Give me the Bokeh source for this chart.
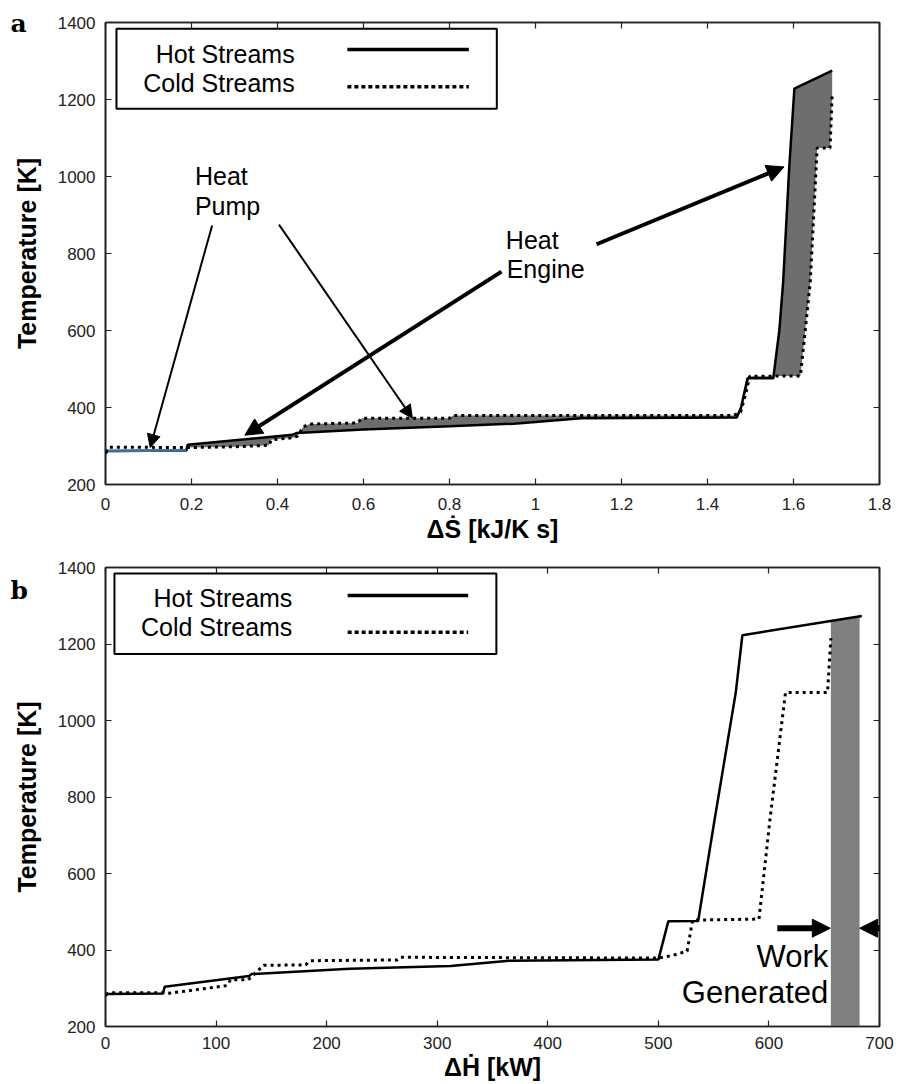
import numpy as np
from bokeh.plotting import figure
from bokeh.layouts import column
from bokeh.models import (LinearAxis, FixedTicker, Label, Arrow, NormalHead,
                          BoxAnnotation, Range1d, CustomJSTickFormatter)
from bokeh.embed import file_html
from bokeh.resources import INLINE

# ---------------- data: panel a (T vs entropy flow) ----------------
s_hot = [0.000, 0.005, 0.188, 0.191, 0.435, 0.445, 0.600, 0.800, 0.950, 1.106,
         1.468, 1.478, 1.493, 1.553, 1.567, 1.576, 1.590, 1.602, 1.690]
t_hot_s = [280, 287, 288, 303, 329, 334, 343, 351, 358, 372,
           374, 400, 476, 476, 600, 727, 1022, 1228, 1275]

s_cold = [0.000, 0.008, 0.190, 0.300, 0.380, 0.386, 0.440, 0.447, 0.460, 0.475,
          0.586, 0.596, 0.800, 0.808, 1.460, 1.477, 1.490, 1.498, 1.616, 1.627,
          1.639, 1.655, 1.685, 1.690]
t_cold_s = [284, 297, 296, 298, 302, 316, 322, 326, 350, 357,
            360, 372, 372, 379, 379, 388, 440, 481, 482, 597,
            727, 1074, 1074, 1217]

# ---------------- data: panel b (T vs enthalpy flow) ----------------
h_hot = [0, 2, 52, 53.5, 130, 132, 221, 312, 365, 500, 509, 536, 551, 570, 576, 684]
t_hot_h = [280, 285, 286, 304, 332, 337, 351, 358, 372, 375, 475, 476, 743, 1073, 1223, 1273]

h_cold = [0, 3, 53, 58, 110, 113, 129, 143, 181, 185, 264, 267, 365, 500, 512,
          526, 531, 591, 601, 615, 653, 656]
t_cold_h = [284, 288, 288, 287, 307, 322, 322, 360, 361, 372, 374, 381, 380, 379, 385,
            397, 478, 481, 743, 1073, 1073, 1215]

work_h = [656, 682]   # work generated band [kW]

# ---------------- ticks ----------------
s_ticks = [0, 0.2, 0.4, 0.6, 0.8, 1.0, 1.2, 1.4, 1.6, 1.8]
s_tick_labels = ["0", "0.2", "0.4", "0.6", "0.8", "1", "1.2", "1.4", "1.6", "1.8"]
h_ticks = [0, 100, 200, 300, 400, 500, 600, 700]
h_tick_labels = ["0", "100", "200", "300", "400", "500", "600", "700"]
t_ticks = [200, 400, 600, 800, 1000, 1200, 1400]
t_tick_labels = ["200", "400", "600", "800", "1000", "1200", "1400"]

SANS = "Liberation Sans"
AX = "#222222"


def style_axis(ax, ticks, labels=None):
    ax.ticker = FixedTicker(ticks=ticks)
    ax.major_tick_in = 6
    ax.major_tick_out = 0
    ax.minor_tick_line_color = None
    ax.axis_line_color = AX
    ax.axis_line_width = 1.6
    ax.major_tick_line_color = AX
    ax.major_tick_line_width = 1.2
    if labels is not None:
        ax.major_label_overrides = {t: l for t, l in zip(ticks, labels)}
        ax.major_label_text_font = SANS
        ax.major_label_text_font_size = "17px"
        ax.major_label_text_color = AX
    else:
        ax.formatter = CustomJSTickFormatter(code="return ''")
        ax.major_label_text_font_size = "0px"
        ax.major_label_standoff = 0


def make_fig(height, top, bottom, right, xmax, xticks, xlabels, xlabel,
             tick_standoff, label_standoff, panel, title_standoff):
    p = figure(width=899, height=height, x_range=Range1d(0, xmax),
               y_range=Range1d(200, 1400), output_backend="svg",
               toolbar_location=None, min_border_left=105,
               min_border_right=right, min_border_top=top,
               min_border_bottom=bottom, title=panel, title_location="above")
    p.title.text_font = "DejaVu Serif"
    p.title.text_font_size = "25px"
    p.title.text_font_style = "bold"
    p.title.text_color = "black"
    p.title.align = "left"
    p.title.offset = -95
    p.title.standoff = title_standoff
    p.grid.visible = False
    p.outline_line_color = AX
    p.outline_line_width = 1.6
    p.background_fill_color = "white"
    p.border_fill_color = "white"
    xa, ya = p.xaxis[0], p.yaxis[0]
    style_axis(xa, xticks, xlabels)
    style_axis(ya, t_ticks, t_tick_labels)
    xa.major_label_standoff = tick_standoff
    ya.major_label_standoff = 10
    xa.axis_label = xlabel
    ya.axis_label = "Temperature [K]"
    for ax, so in ((xa, label_standoff), (ya, 14)):
        ax.axis_label_text_font = SANS
        ax.axis_label_text_font_style = "bold"
        ax.axis_label_text_font_size = "25px"
        ax.axis_label_text_color = "black"
        ax.axis_label_standoff = so
    top_ax = LinearAxis()
    style_axis(top_ax, xticks)
    right_ax = LinearAxis()
    style_axis(right_ax, t_ticks)
    p.add_layout(top_ax, "above")
    p.add_layout(right_ax, "right")
    return p


def add_text(p, x, y, text, size="25px", align="left"):
    p.add_layout(Label(x=x, y=y, text=text, text_font=SANS, text_font_size=size,
                       text_align=align, text_baseline="alphabetic",
                       text_color="black"))


def add_arrow(p, x0, y0, x1, y1, width, head):
    p.add_layout(Arrow(end=NormalHead(size=head, fill_color="black",
                                      line_color="black", line_width=1),
                       x_start=x0, y_start=y0, x_end=x1, y_end=y1,
                       line_color="black", line_width=width))


def add_legend(p, left, right, bottom, top, text_x, y_hot, y_cold, l0, l1, yl_hot, yl_cold):
    p.add_layout(BoxAnnotation(left=left, right=right, bottom=bottom, top=top,
                               fill_color="white", fill_alpha=1.0,
                               line_color="black", line_width=2, line_alpha=1.0))
    add_text(p, text_x, y_hot, "Hot Streams", align="right")
    add_text(p, text_x, y_cold, "Cold Streams", align="right")
    p.add_layout(Arrow(end=None, x_start=l0, y_start=yl_hot, x_end=l1, y_end=yl_hot,
                       line_color="black", line_width=3.5))
    p.add_layout(Arrow(end=None, x_start=l0, y_start=yl_cold, x_end=l1, y_end=yl_cold,
                       line_color="black", line_width=3.5, line_dash="4 3"))


# ======================= panel a =======================
pa = make_fig(546, 22, 62, 16, 1.8, s_ticks, s_tick_labels, "ΔṠ [kJ/K s]", 13, 2,
              "a", -30)

# shaded area between the composite curves (from the hot step onward)
x0 = s_hot[3]
grid = np.union1d(np.array(s_hot), np.array(s_cold))
grid = grid[grid >= x0]
pa.varea(x=grid, y1=np.interp(grid, s_hot, t_hot_s),
         y2=np.interp(grid, s_cold, t_cold_s), fill_color="#6e6e6e")

pa.line(s_hot, t_hot_s, line_color="black", line_width=2.5)
pa.line(s_hot[1:3], t_hot_s[1:3], line_color="#3a6ea5", line_width=2.5)
pa.line(s_cold, t_cold_s, line_color="black", line_width=3, line_dash="3 4")

add_legend(pa, 0.0255, 0.910, 1176, 1384, 0.44, 1319, 1243, 0.5625, 0.845, 1330, 1233)

add_text(pa, 0.208, 1001, "Heat")
add_text(pa, 0.208, 923, "Pump")
add_text(pa, 0.931, 836, "Heat")
add_text(pa, 0.933, 761, "Engine")
add_arrow(pa, 0.248, 873, 0.104, 296, 2, 13)
add_arrow(pa, 0.4035, 875, 0.7137, 372, 2, 13)
add_arrow(pa, 1.142, 824, 1.578, 1025, 4, 17)
add_arrow(pa, 0.921, 753, 0.324, 328, 4, 17)

# ======================= panel b =======================
pb = make_fig(538, 21, 58, 20, 700, h_ticks, h_tick_labels, "ΔḢ [kW]", 10, 1,
              "b", -74)

wx = np.array(work_h, dtype=float)
pb.varea(x=wx, y1=[200, 200], y2=np.interp(wx, h_hot, t_hot_h), fill_color="#808080")

pb.line(h_hot, t_hot_h, line_color="black", line_width=2.5)
pb.line(h_cold, t_cold_h, line_color="black", line_width=3, line_dash="3 4")

add_legend(pb, 8.1, 353.5, 1174, 1384, 169, 1319, 1244, 219, 328, 1327, 1231)

add_text(pb, 653.7, 383, "Work", size="31px", align="right")
add_text(pb, 653.7, 289, "Generated", size="31px", align="right")
add_arrow(pb, 607.6, 457, 655.5, 457, 6, 18)
add_arrow(pb, 718, 457, 682, 457, 6, 18)

layout = column(pa, pb, spacing=0)
with open("out.html", "w", encoding="utf-8") as f:
    f.write(file_html(layout, INLINE))
